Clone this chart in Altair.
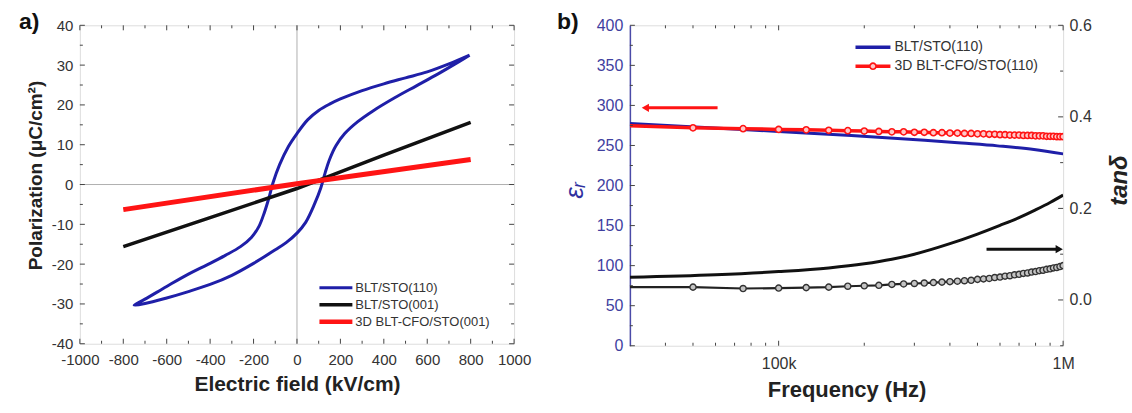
import altair as alt
import pandas as pd

FONT = "Liberation Sans"

# ---------------- panel a data ----------------
a_names = ["BLT/STO(110)", "BLT/STO(001)", "3D BLT-CFO/STO(001)"]
a_colors = ["#1f1fa8", "#111111", "#ff1414"]

# descending branch (from +800 to -750) then ascending branch back to +800
blue_E = [795, 700, 600, 500, 400, 300, 200, 150, 100, 50, 0, -40, -80, -110, -130, -150, -175, -210, -260, -330,
          -400, -500, -600, -700, -750,
          -700, -600, -500, -400, -300, -200, -100, -50, 0, 40, 80, 110, 130, 150, 180, 220, 280, 350, 450, 550,
          650, 750, 795]
blue_P = [32.5, 30.3, 28.3, 26.8, 25.3, 23.6, 21.5, 20.2, 18.6, 16.3, 12.8, 9.5, 5.0, 0.5, -3.5, -7.0, -10.5, -13.3,
          -15.6, -17.8, -19.8, -22.5, -25.6, -28.8, -30.3,
          -29.9, -28.5, -26.9, -25.1, -22.8, -19.8, -16.4, -14.6, -12.2, -9.5, -5.0, -0.8, 3.0, 6.3, 9.8, 12.8,
          15.8, 18.5, 21.8, 24.8, 27.8, 31.0, 32.5]
black_E = [-800, -400, 0, 400, 800]
black_P = [-15.6, -8.3, -1.0, 7.4, 15.6]
red_E = [-800, 0, 800]
red_P = [-6.3, 0.2, 6.3]

a_x_major = [-1000, -800, -600, -400, -200, 0, 200, 400, 600, 800, 1000]
a_x_minor = [-900, -700, -500, -300, -100, 100, 300, 500, 700, 900]
a_y_major = [-40, -30, -20, -10, 0, 10, 20, 30, 40]
a_y_minor = [-35, -25, -15, -5, 5, 15, 25, 35]

# ---------------- panel b data ----------------
b_names = ["BLT/STO(110)", "3D BLT-CFO/STO(110)"]
b_colors = ["#1f1fa8", "#ff1414"]

blue_f_khz = [30, 55, 100, 180, 326, 440, 588, 790, 1000]
blue_er = [277.5, 272.5, 267.5, 262.5, 256.5, 253.0, 249.5, 245.0, 239.5]

black_f_khz = [30, 60, 100, 150, 200, 250, 300, 400, 500, 600, 700, 800, 900, 1000]
black_tan = [0.0495, 0.055, 0.062, 0.070, 0.079, 0.089, 0.100, 0.123, 0.144, 0.163, 0.180, 0.197, 0.213, 0.229]

cfo_f_khz = [30, 50, 75, 100, 125, 150, 175, 200, 225, 250, 275, 300, 325, 350, 375, 400, 425, 450, 475, 500,
             525, 550, 575, 600, 625, 650, 675, 700, 725, 750, 775, 800, 825, 850, 875, 900, 925, 950, 975, 1000]
cfo_er = [274.5, 272, 271, 270, 269.5, 269, 268.5, 268, 267.5, 267, 267, 266.5, 266.5, 266, 266, 265.5, 265.5, 265, 265, 264.5,
          264.5, 264, 264, 263.5, 263.5, 263, 263, 263, 262.5, 262.5, 262.5, 262, 262, 262, 261.5, 261.5, 261.5, 261, 261, 261]
cfo_tan = [0.028, 0.028, 0.025, 0.026, 0.027, 0.028, 0.030, 0.031, 0.032, 0.034, 0.035, 0.036, 0.037, 0.038, 0.039, 0.040,
           0.041, 0.042, 0.043, 0.045, 0.046, 0.047, 0.049, 0.050, 0.052, 0.053, 0.055, 0.056, 0.058, 0.059, 0.061, 0.062,
           0.064, 0.065, 0.067, 0.068, 0.070, 0.071, 0.073, 0.075]

red_arrow_f = [61000, 34000]
red_arrow_er = [297, 297]
black_arrow_f = [538000, 969000]
black_arrow_tan = [0.111, 0.111]

b_x_major = [100000, 1000000]
b_x_minor = [40000, 50000, 60000, 70000, 80000, 90000, 200000, 300000, 400000, 500000, 600000, 700000, 800000, 900000]
b_yl_major = [0, 50, 100, 150, 200, 250, 300, 350, 400]
b_yl_minor = [25, 75, 125, 175, 225, 275, 325, 375]
b_yr_major = [0.0, 0.2, 0.4, 0.6]
b_yr_minor = [-0.1, 0.1, 0.3, 0.5]

panel_labels = ["a)", "b)"]

# ---------------- geometry ----------------
W_A, H_A = 435, 319
W_B, H_B = 434, 321
TICK_C = "#444444"
HYPHEN_INT = "datum.value < 0 ? '-' + format(-datum.value, 'd') : format(datum.value, 'd')"


def xticks(vals, scale, axis, H, length):
    d = pd.DataFrame({"v": vals})
    base = alt.Chart(d).mark_rule(color=TICK_C, strokeWidth=1)
    return [
        base.encode(x=alt.X("v:Q", scale=scale, axis=axis), y=alt.value(H), y2=alt.value(H - length)),
        base.encode(x=alt.X("v:Q", scale=scale, axis=axis), y=alt.value(0), y2=alt.value(length)),
    ]


def yticks(vals, scale, axis, W, length, sides):
    d = pd.DataFrame({"v": vals})
    base = alt.Chart(d).mark_rule(color=TICK_C, strokeWidth=1)
    out = []
    if "left" in sides:
        out.append(base.encode(y=alt.Y("v:Q", scale=scale, axis=axis), x=alt.value(0), x2=alt.value(length)))
    if "right" in sides:
        out.append(base.encode(y=alt.Y("v:Q", scale=scale, axis=axis), x=alt.value(W), x2=alt.value(W - length)))
    return out


def legend_entry(name, color, x0, x1, y, sw, fs, tx):
    d = pd.DataFrame({"label": [name]})
    line = alt.Chart(d).mark_rule(color=color, strokeWidth=sw).encode(
        x=alt.value(x0), x2=alt.value(x1), y=alt.value(y))
    text = alt.Chart(d).mark_text(align="left", baseline="middle", font=FONT, fontSize=fs, color="#333333").encode(
        x=alt.value(tx), y=alt.value(y), text="label:N")
    return [line, text]


def panel_label(lbl, x, y):
    d = pd.DataFrame({"t": [lbl]})
    return alt.Chart(d).mark_text(align="left", baseline="middle", font=FONT, fontSize=23,
                                  fontWeight="bold", color="#111111").encode(
        x=alt.value(x), y=alt.value(y), text="t:N")


# ---------------- panel a ----------------
xa = alt.Scale(domain=[-1000, 1000], nice=False, zero=False)
ya = alt.Scale(domain=[-40, 40], nice=False, zero=False)

axis_xa = alt.Axis(values=a_x_major, labelExpr=HYPHEN_INT, title="Electric field (kV/cm)", ticks=False,
                   domain=False, grid=False, labelFont=FONT, labelFontSize=15, labelColor="#333333",
                   labelPadding=9, labelFlush=False, labelOverlap=False,
                   titleFont=FONT, titleFontSize=21, titleFontWeight="bold", titleColor="#222222",
                   titleX=W_A / 2, titleY=41, titleBaseline="middle", titleAlign="center")
axis_ya = alt.Axis(values=a_y_major, labelExpr=HYPHEN_INT, title="Polarization (μC/cm²)", ticks=False,
                   domain=False, grid=False, labelFont=FONT, labelFontSize=15, labelColor="#333333",
                   labelPadding=7, labelFlush=False, labelOverlap=False,
                   titleFont=FONT, titleFontSize=19, titleFontWeight="bold", titleColor="#222222",
                   titleX=-44, titleY=150, titleAngle=270, titleBaseline="middle", titleAlign="center")

zero_df = pd.DataFrame({"v": [0]})
zero_x = alt.Chart(zero_df).mark_rule(color="#b0b0b0", strokeWidth=1).encode(
    x=alt.X("v:Q", scale=xa, axis=axis_xa))
zero_y = alt.Chart(zero_df).mark_rule(color="#b0b0b0", strokeWidth=1).encode(
    y=alt.Y("v:Q", scale=ya, axis=axis_ya))


def a_line(E, P, color, sw, interp):
    d = pd.DataFrame({"E": E, "P": P, "i": list(range(len(E)))})
    return alt.Chart(d).mark_line(color=color, strokeWidth=sw, interpolate=interp, clip=True).encode(
        x=alt.X("E:Q", scale=xa, axis=axis_xa),
        y=alt.Y("P:Q", scale=ya, axis=axis_ya),
        order="i:Q")


line_blue = a_line(blue_E, blue_P, a_colors[0], 3, "catmull-rom")
line_black = a_line(black_E, black_P, a_colors[1], 3.5, "linear")
line_red = a_line(red_E, red_P, a_colors[2], 5, "linear")

a_layers = [zero_x, zero_y, line_blue, line_black, line_red]
a_layers += xticks(a_x_major, xa, axis_xa, H_A, 5) + xticks(a_x_minor, xa, axis_xa, H_A, 3)
a_layers += yticks(a_y_major, ya, axis_ya, W_A, 5, ("left", "right"))
a_layers += yticks(a_y_minor, ya, axis_ya, W_A, 3, ("left", "right"))
for k, (nm, col, sw) in enumerate(zip(a_names, a_colors, [3, 3.5, 4.5])):
    a_layers += legend_entry(nm, col, 240, 273, 263 + 17 * k, sw, 13, 276)
a_layers.append(panel_label(panel_labels[0], -61, -3))

panel_a = alt.layer(*a_layers).properties(width=W_A, height=H_A)

# ---------------- panel b ----------------
xb = alt.Scale(type="log", domain=[30000, 1000000], nice=False)
yl = alt.Scale(domain=[0, 400], nice=False, zero=False)
yr = alt.Scale(domain=[-0.1, 0.6], nice=False, zero=False)

axis_xb = alt.Axis(values=b_x_major, labelExpr="datum.value >= 1000000 ? '1M' : '100k'",
                   title="Frequency (Hz)", ticks=False, domain=False, grid=False,
                   labelFont=FONT, labelFontSize=16, labelColor="#333333", labelPadding=10,
                   labelFlush=False, labelOverlap=False,
                   titleFont=FONT, titleFontSize=22, titleFontWeight="bold", titleColor="#222222",
                   titleX=W_B / 2, titleY=44, titleBaseline="middle", titleAlign="center")
axis_yl = alt.Axis(values=b_yl_major, format="d", title="εᵣ", ticks=False, domain=True,
                   domainColor="#4a4aa8", domainWidth=1.5, grid=False,
                   labelFont=FONT, labelFontSize=16, labelColor="#3f3f9f", labelPadding=7,
                   labelFlush=False, labelOverlap=False,
                   titleFont=FONT, titleFontSize=26, titleFontStyle="italic", titleFontWeight="normal",
                   titleColor="#3030a0",
                   titleX=-55, titleY=165, titleAngle=270, titleBaseline="middle", titleAlign="center")
axis_yr = alt.Axis(values=b_yr_major, format=".1f", title="tanδ", orient="right", ticks=False, domain=False,
                   grid=False, labelFont=FONT, labelFontSize=16, labelColor="#333333", labelPadding=6,
                   labelFlush=False, labelOverlap=False,
                   titleFont=FONT, titleFontSize=24, titleFontStyle="italic", titleFontWeight="bold",
                   titleColor="#222222",
                   titleX=56, titleY=155, titleAngle=270, titleBaseline="middle", titleAlign="center")

blue_df = pd.DataFrame({"f": [v * 1000 for v in blue_f_khz], "v": blue_er})
black_df = pd.DataFrame({"f": [v * 1000 for v in black_f_khz], "v": black_tan})
cfo_df = pd.DataFrame({"f": [v * 1000 for v in cfo_f_khz], "er": cfo_er, "tan": cfo_tan})

XB = dict(scale=xb, axis=axis_xb)

b_blue = alt.Chart(blue_df).mark_line(color=b_colors[0], strokeWidth=3, interpolate="monotone", clip=True).encode(
    x=alt.X("f:Q", **XB),
    y=alt.Y("v:Q", scale=yl, axis=axis_yl))
b_black = alt.Chart(black_df).mark_line(color="#111111", strokeWidth=3, interpolate="monotone", clip=True).encode(
    x=alt.X("f:Q", **XB),
    y=alt.Y("v:Q", scale=yr, axis=axis_yr))
b_red_line = alt.Chart(cfo_df).mark_line(color=b_colors[1], strokeWidth=3.5, clip=True).encode(
    x=alt.X("f:Q", **XB),
    y=alt.Y("er:Q", scale=yl, axis=None))
b_red_pts = alt.Chart(cfo_df).transform_filter("datum.f >= 50000").mark_point(
    shape="circle", size=38, filled=True, fill="#ffc8c8", stroke="#ff1414", strokeWidth=1.6, opacity=1,
    clip=True).encode(
    x=alt.X("f:Q", **XB),
    y=alt.Y("er:Q", scale=yl, axis=None))
b_gray_line = alt.Chart(cfo_df).mark_line(color="#222222", strokeWidth=2.2, clip=True).encode(
    x=alt.X("f:Q", **XB),
    y=alt.Y("tan:Q", scale=yr, axis=None))
b_gray_pts = alt.Chart(cfo_df).transform_filter("datum.f >= 50000").mark_point(
    shape="circle", size=38, filled=True, fill="#c4c4c4", stroke="#333333", strokeWidth=1.4, opacity=1,
    clip=True).encode(
    x=alt.X("f:Q", **XB),
    y=alt.Y("tan:Q", scale=yr, axis=None))

ra_df = pd.DataFrame({"f1": [red_arrow_f[0]], "f2": [red_arrow_f[1]], "v": [red_arrow_er[0]]})
red_arrow_line = alt.Chart(ra_df).mark_rule(color="#ff1414", strokeWidth=3).encode(
    x=alt.X("f1:Q", **XB), x2="f2:Q", y=alt.Y("v:Q", scale=yl, axis=None))
red_arrow_head = alt.Chart(ra_df).mark_point(shape="triangle-left", size=70, filled=True, color="#ff1414",
                                             opacity=1).encode(
    x=alt.X("f2:Q", **XB), y=alt.Y("v:Q", scale=yl, axis=None))
ba_df = pd.DataFrame({"f1": [black_arrow_f[0]], "f2": [black_arrow_f[1]], "v": [black_arrow_tan[0]]})
black_arrow_line = alt.Chart(ba_df).mark_rule(color="#111111", strokeWidth=3).encode(
    x=alt.X("f1:Q", **XB), x2="f2:Q", y=alt.Y("v:Q", scale=yr, axis=None))
black_arrow_head = alt.Chart(ba_df).mark_point(shape="triangle-right", size=70, filled=True, color="#111111",
                                               opacity=1).encode(
    x=alt.X("f2:Q", **XB), y=alt.Y("v:Q", scale=yr, axis=None))

b_layers = [b_blue, b_black, b_gray_line, b_gray_pts, b_red_line, b_red_pts,
            red_arrow_line, red_arrow_head, black_arrow_line, black_arrow_head]
b_layers += xticks(b_x_major, xb, axis_xb, H_B, 5) + xticks(b_x_minor, xb, axis_xb, H_B, 3)
b_layers += yticks(b_yl_major, yl, None, W_B, 5, ("left",)) + yticks(b_yl_minor, yl, None, W_B, 3, ("left",))
b_layers += yticks(b_yr_major, yr, None, W_B, 5, ("right",)) + yticks(b_yr_minor, yr, None, W_B, 3, ("right",))
b_layers += legend_entry(b_names[0], b_colors[0], 226, 261, 22, 3.5, 14, 265)
b_layers += legend_entry(b_names[1], b_colors[1], 226, 261, 41, 3.5, 14, 265)
leg_pt = alt.Chart(pd.DataFrame({"t": [b_names[1]]})).mark_point(
    shape="circle", size=38, filled=True, fill="#ffc8c8", stroke="#ff1414", strokeWidth=1.6, opacity=1).encode(
    x=alt.value(243.5), y=alt.value(41))
b_layers.append(leg_pt)
b_layers.append(panel_label(panel_labels[1], -73, -3))

panel_b = alt.layer(*b_layers).resolve_scale(y="independent").properties(width=W_B, height=H_B)

chart = alt.hconcat(panel_a, panel_b, spacing=116, bounds="flush").properties(
    padding={"left": 18, "top": 10, "right": 0, "bottom": 0}
).configure_view(stroke="#555555", strokeWidth=1.3).configure(background="white")

chart.save("out.html", embed_options={"renderer": "svg", "actions": False})
